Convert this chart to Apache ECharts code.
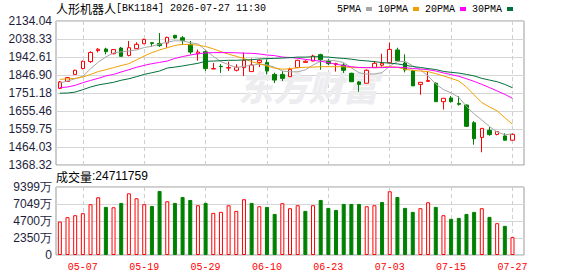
<!DOCTYPE html>
<html><head><meta charset="utf-8">
<script src="https://cdn.jsdelivr.net/npm/echarts@6/dist/echarts.min.js"></script>
<style>html,body{margin:0;padding:0;background:#fff}#c{width:578px;height:276px}</style>
</head><body><div id="c"></div>
<script>
const dates = ['04-29','04-30','05-06','05-07','05-08','05-11','05-12','05-13','05-14','05-15',
 '05-18','05-19','05-20','05-21','05-22','05-25','05-26','05-27','05-28','05-29',
 '06-01','06-02','06-03','06-04','06-05','06-08','06-09','06-10','06-11','06-12',
 '06-15','06-16','06-17','06-18','06-22','06-23','06-24','06-25','06-26','06-29',
 '06-30','07-01','07-02','07-03','07-06','07-07','07-08','07-09','07-10','07-13',
 '07-14','07-15','07-16','07-17','07-20','07-21','07-22','07-23','07-24','07-27'];
const xTickLabels = ['05-07','05-19','05-29','06-10','06-23','07-03','07-15','07-27'];

const opens  = [1776,1813,1850,1881,1918,1977,1985,1960,1990,1951, 1987,2013,2019,2015,2017,2058,2045,2010,1960,1971,
                1879,1893,1884,1872,1886,1865,1914,1914,1850,1850, 1838,1886,1914,1921,1955,1920,1902,1900,1856,1810,
                1803,1886,1899,1912,1980,1911,1869,1797,1813,1803, 1705,1725,1696,1687,1593,1515,1553,1531,1523,1500];
const closes = [1810,1833,1872,1920,1967,1984,1971,1982,1946,1992, 2010,2036,2015,2003,2047,2044,2031,1969,1969,1881,
                1881,1891,1886,1888,1925,1900,1925,1868,1820,1829, 1877,1925,1920,1948,1928,1907,1907,1872,1811,1797,
                1872,1909,1909,1983,1923,1874,1789,1808,1818,1705, 1723,1705,1691,1574,1508,1563,1530,1546,1500,1531];
const lows   = [1772,1810,1849,1877,1912,1967,1957,1957,1946,1946, 1985,2012,1998,1996,1992,2040,2006,1957,1923,1868,
                1878,1858,1868,1866,1842,1863,1889,1850,1804,1815, 1837,1884,1911,1920,1875,1900,1865,1858,1810,1758,
                1803,1884,1891,1909,1920,1861,1789,1742,1810,1705, 1663,1700,1684,1570,1476,1436,1524,1526,1500,1500];
const highs  = [1815,1836,1875,1923,1973,1990,1992,1985,1996,2028, 2021,2040,2020,2070,2051,2060,2054,2028,1982,1978,
                1911,1905,1918,1904,1966,1934,1930,1930,1859,1868, 1886,1928,1925,1955,1960,1932,1912,1909,1859,1815,
                1877,1921,1960,2019,1992,1957,1874,1810,1865,1808, 1725,1735,1734,1691,1602,1565,1570,1549,1537,1537];

const ma5  = [1804,1815,1827,1840,1880,1915,1943,1965,1970,1975, 1980,1993,2000,2011,2022,2029,2028,2019,2012,1979,
              1946,1918,1902,1886,1894,1898,1905,1901,1888,1868, 1864,1864,1874,1900,1920,1926,1922,1913,1885,1859,
              1852,1852,1860,1894,1919,1919,1896,1875,1842,1799, 1769,1752,1728,1680,1640,1608,1573,1544,1529,1534];
const ma10 = [1824,1826,1829,1836,1850,1865,1875,1886,1897,1907, 1927,1948,1966,1980,1992,2004,2010,2008,2006,1998,
              1986,1971,1958,1946,1934,1918,1906,1895,1883,1878, 1880,1886,1888,1889,1891,1891,1891,1891,1886,1886,
              1886,1888,1889,1891,1888,1877,1872,1868,1865,1854, 1842,1829,1815,1783,1741,1700,1677,1656,1620,1585];
const ma20 = [1780,1783,1792,1806,1818,1829,1842,1850,1863,1875, 1888,1898,1907,1914,1921,1935,1945,1953,1960,1964,
              1966,1966,1966,1965,1963,1962,1959,1953,1950,1942, 1940,1936,1930,1925,1920,1913,1904,1897,1891,1887,
              1886,1886,1886,1888,1888,1886,1881,1879,1875,1868, 1858,1849,1840,1827,1813,1797,1780,1762,1744,1723];
const ma30 = [1750,1751,1756,1769,1783,1794,1801,1808,1819,1827, 1838,1850,1859,1868,1884,1889,1895,1902,1909,1920,
              1921,1923,1925,1925,1927,1928,1932,1934,1935,1937, 1939,1942,1942,1944,1944,1942,1938,1935,1931,1925,
              1922,1918,1913,1910,1906,1899,1892,1887,1881,1876, 1866,1861,1857,1850,1842,1829,1820,1811,1797,1779];

const volumes = [46200000,52300000,55000000,57800000,70200000,79800000,66500000,66000000,72000000,85300000,
                 78400000,70200000,67800000,88500000,74300000,72000000,80200000,76100000,68800000,72000000,
                 58200000,59600000,68800000,61000000,77100000,72000000,67400000,66500000,56800000,71600000,
                 64700000,68800000,61000000,68800000,76100000,65100000,62300000,70600000,70600000,70600000,
                 67400000,68800000,73300000,88100000,80200000,65100000,59600000,64700000,72900000,66500000,
                 55000000,50000000,51300000,56800000,59600000,64700000,52700000,44000000,40300000,24711759];
const volUp = [1,1,1,1,1,1,0,1,0,1, 1,1,0,0,1,0,0,0,1,0, 1,1,1,1,1,0,1,0,0,1,
               1,1,0,1,0,0,0,0,0,0, 1,1,0,1,0,0,0,1,1,0, 1,0,0,0,0,1,0,1,0,1];

const priceTicks = [1368.32,1464.03,1559.75,1655.46,1751.18,1846.90,1942.61,2038.33,2134.04];
const volMax = 93990000;
const volSteps = 4;

const titleName = '人形机器人';
const titleCode = '[BK1184] 2026-07-27 11:30';
const volTitle = '成交量';
const maNames = ['5PMA','10PMA','20PMA','30PMA'];
const maColors = ['#a6a6a6','#f0a000','#ff00ff','#00703c'];

const cats = dates.concat(['']);
const RED = '#ff0000', GREEN = '#008000';
const labelColor = '#1e1e3c';
const isTick = (i, v) => xTickLabels.indexOf(v) >= 0;
const dashed = {show: true, interval: isTick, alignWithLabel: true,
  lineStyle: {color: '#cfcfcf', type: [4, 3], width: 1}};

const chart = echarts.init(document.getElementById('c'), null, {renderer: 'svg'});
const maData = [ma5, ma10, ma20, ma30];

chart.setOption({
  animation: false,
  backgroundColor: '#fff',
  title: [{
    text: '{a|' + titleName + '}{b|' + titleCode + '}',
    left: 56, top: 2, padding: 0,
    textStyle: {fontWeight: 'normal', rich: {
      a: {fontFamily: 'Noto Sans CJK SC', fontSize: 12, fontWeight: 'normal', color: '#000'},
      b: {fontFamily: 'Liberation Mono', fontSize: 10, fontWeight: 'normal', color: '#000'}
    }}
  }, {
    text: '{a|' + volTitle + '}{b|:' + volumes[volumes.length - 1] + '}',
    left: 56, top: 170, padding: 0,
    textStyle: {fontWeight: 'normal', rich: {
      a: {fontFamily: 'Noto Sans CJK SC', fontSize: 12, fontWeight: 'normal', color: '#000'},
      b: {fontFamily: 'Liberation Sans', fontSize: 12, fontWeight: 'normal', color: '#000'}
    }}
  }],
  legend: {
    data: maNames, left: 337, top: 4, padding: 0,
    align: 'right', icon: 'rect', itemWidth: 6, itemHeight: 4, itemGap: 6,
    textStyle: {fontFamily: 'Liberation Mono', fontSize: 10, color: '#000'}
  },
  graphic: [{
    type: 'text', left: 238, top: 68, z: 1, silent: true,
    style: {text: '东方财富', font: 'italic 900 35px "Noto Sans CJK SC"', fill: '#ededf0'}
  }],
  grid: [
    {left: 56, top: 21, width: 468, height: 144, show: true, borderColor: '#9a9a9a', borderWidth: 1},
    {left: 56, top: 187, width: 468, height: 68, show: true, borderColor: '#9a9a9a', borderWidth: 1}
  ],
  xAxis: [
    {type: 'category', gridIndex: 0, data: cats, boundaryGap: true,
     axisLine: {show: false}, axisTick: {show: false}, axisLabel: {show: false}, splitLine: dashed},
    {type: 'category', gridIndex: 1, data: cats, boundaryGap: true,
     axisLine: {show: false}, axisTick: {show: false},
     axisLabel: {show: true, interval: isTick, color: RED, fontFamily: 'Liberation Mono', fontSize: 10, margin: 7},
     splitLine: dashed}
  ],
  yAxis: [
    {type: 'value', gridIndex: 0, min: priceTicks[0], max: priceTicks[priceTicks.length - 1], scale: true,
     axisLine: {show: false}, axisTick: {show: false, customValues: priceTicks},
     axisLabel: {customValues: priceTicks, formatter: v => v.toFixed(2), color: labelColor,
       fontFamily: 'Liberation Sans', fontSize: 12, margin: 4, showMinLabel: true, showMaxLabel: true},
     splitLine: {show: true, lineStyle: {color: '#d6d6d6'}}},
    {type: 'value', gridIndex: 1, min: 0, max: volMax, interval: volMax / volSteps,
     axisLine: {show: false}, axisTick: {show: false},
     axisLabel: {formatter: v => v === 0 ? '0' : Math.round(v / 10000) + '万', color: labelColor,
       fontFamily: 'Liberation Sans', fontSize: 12, margin: 4, showMinLabel: true, showMaxLabel: true},
     splitLine: {show: true, lineStyle: {color: '#d6d6d6'}}}
  ],
  series: [
    {type: 'candlestick', xAxisIndex: 0, yAxisIndex: 0, barWidth: 4, z: 3,
     data: dates.map((d, i) => [opens[i], closes[i], lows[i], highs[i]]),
     itemStyle: {color: '#ffffff', color0: GREEN, borderColor: RED, borderColor0: GREEN, borderWidth: 1}}
  ].concat(maNames.map((n, k) => ({
    name: n, type: 'line', xAxisIndex: 0, yAxisIndex: 0, data: maData[k], color: maColors[k],
    symbol: 'none', showSymbol: false, z: 4, lineStyle: {width: 1, color: maColors[k]}
  }))).concat([
    {type: 'bar', xAxisIndex: 1, yAxisIndex: 1, barWidth: 4,
     data: volumes.map((v, i) => ({value: v, itemStyle: volUp[i]
       ? {color: '#ffffff', borderColor: RED, borderWidth: 1}
       : {color: GREEN, borderColor: GREEN, borderWidth: 1}}))}
  ])
});
</script></body></html>
